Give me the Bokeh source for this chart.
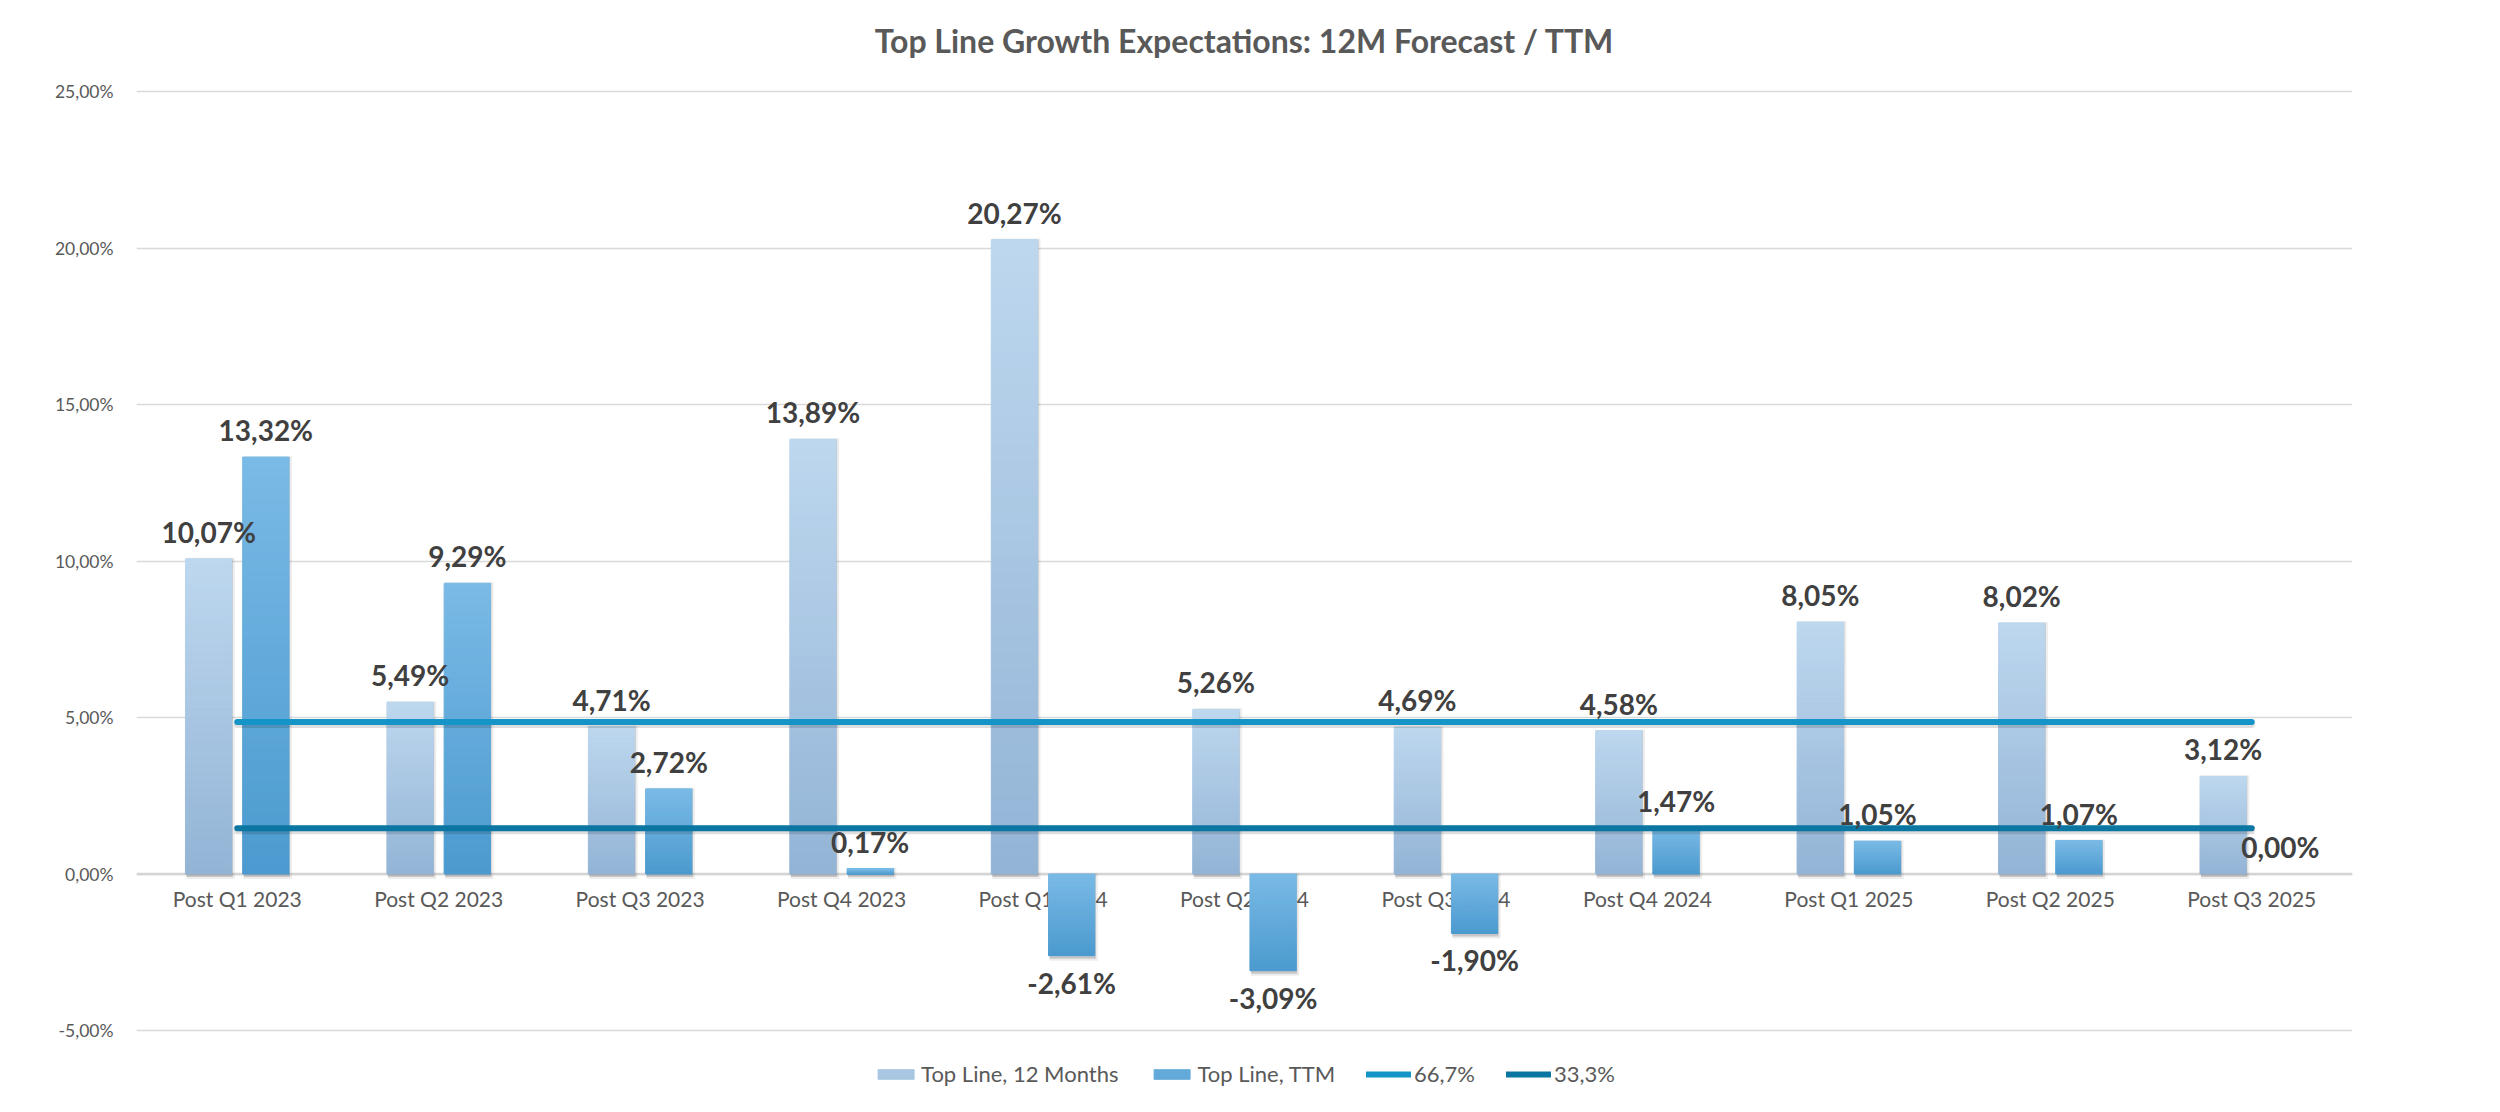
from bokeh.plotting import figure
from bokeh.models import (ColumnDataSource, FactorRange, Range1d, Legend, LegendItem,
                          FixedTicker, Span)
from bokeh.transform import dodge
from bokeh.core.properties import value
from bokeh.embed import file_html
from bokeh.resources import INLINE

# ---------------- data ----------------
categories = ["Post Q1 2023", "Post Q2 2023", "Post Q3 2023", "Post Q4 2023",
              "Post Q1 2024", "Post Q2 2024", "Post Q3 2024", "Post Q4 2024",
              "Post Q1 2025", "Post Q2 2025", "Post Q3 2025"]
top_line_12m = [10.07, 5.49, 4.71, 13.89, 20.27, 5.26, 4.69, 4.58, 8.05, 8.02, 3.12]
top_line_ttm = [13.32, 9.29, 2.72, 0.17, -2.61, -3.09, -1.90, 1.47, 1.05, 1.07, 0.00]
pct_667 = [4.86, 4.86, 4.86, 4.86, 4.86, 4.86, 4.86, 4.86, 4.86, 4.86, 4.86]
pct_333 = [1.46, 1.46, 1.46, 1.46, 1.46, 1.46, 1.46, 1.46, 1.46, 1.46, 1.46]
y_ticks = [-5, 0, 5, 10, 15, 20, 25]
y_tick_labels = ["-5,00%", "0,00%", "5,00%", "10,00%", "15,00%", "20,00%", "25,00%"]
series_names = ["Top Line, 12 Months", "Top Line, TTM", "66,7%", "33,3%"]
title_text = "Top Line Growth Expectations: 12M Forecast / TTM"

# ---------------- style ----------------
FONT = "Lato"
BAR_W = 0.23
OFF_12 = -0.142
OFF_TTM = 0.142
N_SLICES = 40
light_top, light_bot = (0xBD, 0xD7, 0xEE), (0x93, 0xB4, 0xD6)
dark_top, dark_bot = (0x7A, 0xBA, 0xE6), (0x4B, 0x9A, 0xCF)

W, H = 2484, 1096
ROW_25 = 91           # pixel row of the 25% gridline
ROW_M5 = 1030         # pixel row of the -5% gridline
FRAME_BOTTOM = 1094   # frame runs from canvas top to here (title + legend inside)
TITLE_ROW = 40
PX = (ROW_M5 - ROW_25) / 30.0          # pixels per percentage point
Y_MIN = -5 - (FRAME_BOTTOM - ROW_M5) / PX
Y_MAX = 25 + ROW_25 / PX
CAT_PX = (2352 - 136) / len(categories)  # pixels per category


def mix(c0, c1, t):
    return "#%02x%02x%02x" % tuple(int(round(a + (b - a) * t)) for a, b in zip(c0, c1))


def gradient_source(vals, ctop, cbot):
    cat, bottom, top, color = [], [], [], []
    for c, v in zip(categories, vals):
        hi, lo = max(v, 0.0), min(v, 0.0)
        if hi == lo:
            continue
        for k in range(N_SLICES):
            cat.append(c)
            bottom.append(lo + (hi - lo) * k / N_SLICES)
            top.append(lo + (hi - lo) * (k + 1) / N_SLICES)
            color.append(mix(cbot, ctop, (k + 0.5) / N_SLICES))
    return ColumnDataSource(dict(cat=cat, bottom=bottom, top=top, color=color))


def shadow_source(vals, down_px, top_px):
    cat, bottom, top = [], [], []
    for c, v in zip(categories, vals):
        hi, lo = max(v, 0.0), min(v, 0.0)
        if hi == lo:
            continue
        cat.append(c)
        bottom.append(lo - down_px / PX)
        top.append(hi - top_px / PX)
    return ColumnDataSource(dict(cat=cat, bottom=bottom, top=top))


def fmt(v):
    return ("%.2f" % v).replace(".", ",") + "%"


p = figure(x_range=FactorRange(*categories, range_padding=0),
           y_range=Range1d(Y_MIN, Y_MAX),
           width=W, height=H,
           output_backend="svg", toolbar_location=None,
           x_axis_location=None,
           min_border_left=136, min_border_right=W - 2352,
           min_border_top=0, min_border_bottom=H - FRAME_BOTTOM)
p.outline_line_color = None
p.background_fill_color = "white"
p.border_fill_color = "white"

p.yaxis.ticker = FixedTicker(ticks=y_ticks)
p.yaxis.major_label_overrides = dict(zip(y_ticks, y_tick_labels))
p.yaxis.axis_line_color = None
p.yaxis.major_tick_line_color = None
p.yaxis.minor_tick_line_color = None
p.yaxis.major_tick_out = 0
p.yaxis.major_tick_in = 0
p.yaxis.major_label_standoff = 23
p.yaxis.major_label_text_font = FONT
p.yaxis.major_label_text_font_size = "17.5px"
p.yaxis.major_label_text_color = "#595959"
p.ygrid.grid_line_color = "#D9D9D9"
p.ygrid.grid_line_width = 1.5
p.xgrid.visible = False

p.add_layout(Span(location=0, dimension="width", line_color="#D4D4D4",
                  line_width=2.5, level="underlay"))

# title (centred over the middle category)
p.text(x=[categories[len(categories) // 2]], y=[25 + (ROW_25 - TITLE_ROW) / PX],
       text=[title_text], text_align="center", text_baseline="middle",
       text_font=value(FONT), text_font_style="bold", text_font_size="32px",
       text_color="#595959")

# category labels on the zero line (drawn under the bars)
cat_src = ColumnDataSource(dict(cat=categories, zero=[0.0] * len(categories)))
p.text(x="cat", y="zero", text="cat", source=cat_src, y_offset=24,
       text_align="center", text_baseline="middle", text_font=value(FONT),
       text_font_size="21px", text_color="#595959")

# soft bar shadows
for vals, off in ((top_line_12m, OFF_12), (top_line_ttm, OFF_TTM)):
    p.vbar(x=dodge("cat", off + 2.0 / CAT_PX, range=p.x_range),
           width=BAR_W + 2.0 / CAT_PX, top="top", bottom="bottom",
           fill_color="black", fill_alpha=0.07, line_color=None,
           source=shadow_source(vals, 5.0, -1.0))
    p.vbar(x=dodge("cat", off + 1.0 / CAT_PX, range=p.x_range),
           width=BAR_W, top="top", bottom="bottom",
           fill_color="black", fill_alpha=0.16, line_color=None,
           source=shadow_source(vals, 3.0, 0.0))

src12 = gradient_source(top_line_12m, light_top, light_bot)
srcttm = gradient_source(top_line_ttm, dark_top, dark_bot)
r12 = p.vbar(x=dodge("cat", OFF_12, range=p.x_range), width=BAR_W, top="top",
             bottom="bottom", fill_color="color", line_color="color", line_width=1,
             source=src12)
rttm = p.vbar(x=dodge("cat", OFF_TTM, range=p.x_range), width=BAR_W, top="top",
              bottom="bottom", fill_color="color", line_color="color", line_width=1,
              source=srcttm)

# line shadows + lines
for vals in (pct_667, pct_333):
    p.line(x=categories, y=[v - 3.0 / PX for v in vals], line_width=6,
           line_color="black", line_alpha=0.13, line_cap="round")
r667 = p.line(x=categories, y=pct_667, line_width=6, line_color="#1594C7",
              line_cap="round")
r333 = p.line(x=categories, y=pct_333, line_width=6, line_color="#0B76A2",
              line_cap="round")

# data labels
for vals, off in ((top_line_12m, OFF_12), (top_line_ttm, OFF_TTM)):
    s = ColumnDataSource(dict(cat=categories, v=vals, label=[fmt(v) for v in vals],
                              yoff=[-27 if v >= 0 else 27 for v in vals]))
    p.text(x=dodge("cat", off, range=p.x_range), y="v", text="label", y_offset="yoff",
           source=s, text_align="center", text_baseline="middle",
           text_font=value(FONT), text_font_style="bold", text_font_size="28px",
           text_color="#404040")

legend = Legend(items=[
    LegendItem(label=series_names[0], renderers=[r12], index=N_SLICES // 2),
    LegendItem(label=series_names[1], renderers=[rttm], index=N_SLICES // 2),
    LegendItem(label=series_names[2], renderers=[r667]),
    LegendItem(label=series_names[3], renderers=[r333]),
], orientation="horizontal", location="bottom_center")
legend.label_text_font = FONT
legend.label_text_font_size = "22px"
legend.label_text_color = "#595959"
legend.glyph_width = 45
legend.glyph_height = 12
legend.label_standoff = 3
legend.spacing = 31
legend.padding = 4
legend.margin = 7
legend.border_line_color = None
legend.background_fill_alpha = 0
p.add_layout(legend)

open("out.html", "w").write(file_html(p, INLINE))
